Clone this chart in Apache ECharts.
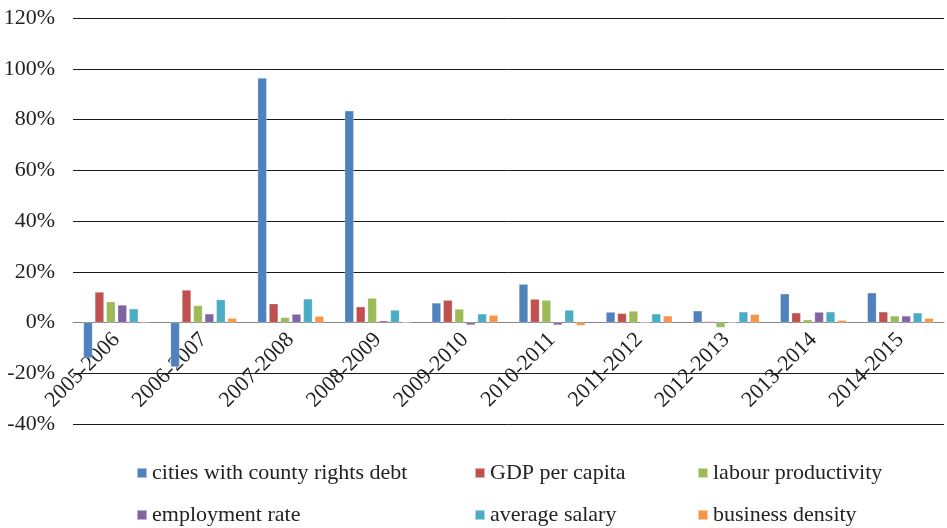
<!DOCTYPE html>
<html>
<head>
<meta charset="utf-8">
<script src="https://cdn.jsdelivr.net/npm/echarts@6/dist/echarts.min.js"></script>
<style>
  html, body { margin: 0; padding: 0; background: #fff; }
  #chart { width: 947px; height: 528px; }
</style>
</head>
<body>
<div id="chart"></div>
<script>
// Year-on-year change (%) of city indicators
const periods = ['2005-2006', '2006-2007', '2007-2008', '2008-2009', '2009-2010',
                 '2010-2011', '2011-2012', '2012-2013', '2013-2014', '2014-2015'];
const countyDebt   = [-14.0, -17.5, 96.4, 83.4, 7.7, 15.1, 4.1, 4.6, 11.3, 11.7];
const gdpPerCapita = [12.0, 12.8, 7.4, 6.2, 8.8, 9.2, 3.6, 0.4, 3.8, 4.2];
const labourProd   = [8.2, 6.7, 2.0, 9.6, 5.3, 8.8, 4.5, -2.0, 1.1, 2.6];
const employment   = [6.9, 3.4, 3.3, 0.7, -1.0, -1.0, 0, 0, 4.1, 2.6];
const avgSalary    = [5.4, 9.0, 9.3, 4.9, 3.4, 4.9, 3.4, 4.2, 4.2, 3.8];
const bizDensity   = [0.3, 1.7, 2.5, 0, 2.9, -1.2, 2.6, 3.2, 0.9, 1.7];
const seriesNames = ['cities with county rights debt', 'GDP per capita', 'labour productivity',
                     'employment rate', 'average salary', 'business density'];
const yTicks = { min: -40, max: 120, step: 20 };

const colors = ['#4F81BD', '#C0504D', '#9BBB59', '#8064A2', '#4BACC6', '#F79646'];
const values = [countyDebt, gdpPerCapita, labourProd, employment, avgSalary, bizDensity];
const font = '"Liberation Serif", "Times New Roman", serif';
const fontSize = 22;

const gridTop = 18, gridBottom = 104, chartHeight = 528;
// pixel distance between the bottom of the plot and the zero line
const plotHeight = chartHeight - gridTop - gridBottom;
const zeroOffset = plotHeight * (0 - yTicks.min) / (yTicks.max - yTicks.min);

const chart = echarts.init(document.getElementById('chart'), null, { renderer: 'canvas' });

// one legend block per entry, laid out as a 3x2 table
const legendCols = [136, 474, 697];
const legendRows = [462, 504];
function legendItem(name, col, row) {
  return {
    left: legendCols[col],
    top: legendRows[row],
    padding: 0,
    itemWidth: 10,
    itemHeight: 10,
    itemGap: 0,
    icon: 'rect',
    textStyle: { fontFamily: font, fontSize: fontSize, color: '#222' },
    data: [name]
  };
}

chart.setOption({
  animation: false,
  color: colors,
  grid: { left: 73, right: 3, top: gridTop, bottom: gridBottom, containLabel: false },
  legend: seriesNames.map((n, i) => legendItem(n, i % 3, Math.floor(i / 3))),
  xAxis: {
    type: 'category',
    data: periods,
    offset: -zeroOffset,
    axisLine: { onZero: false, lineStyle: { color: '#868686', width: 1 } },
    axisTick: { show: false },
    axisLabel: {
      rotate: 45,
      margin: 14,
      interval: 0,
      fontFamily: font,
      fontSize: fontSize,
      color: '#222'
    }
  },
  yAxis: {
    type: 'value',
    min: yTicks.min,
    max: yTicks.max,
    interval: yTicks.step,
    axisLine: { show: false },
    axisTick: { show: false },
    splitLine: { lineStyle: { color: '#1a1a1a', width: 1 } },
    axisLabel: {
      formatter: '{value}%',
      margin: 18,
      fontFamily: font,
      fontSize: fontSize,
      color: '#222'
    }
  },
  series: seriesNames.map((name, i) => ({
    name: name,
    type: 'bar',
    data: values[i],
    barWidth: 9,
    barGap: '27%',
    itemStyle: { color: colors[i], borderColor: 'rgba(255,255,255,0.5)', borderWidth: 0.5 }
  }))
});
</script>
</body>
</html>
